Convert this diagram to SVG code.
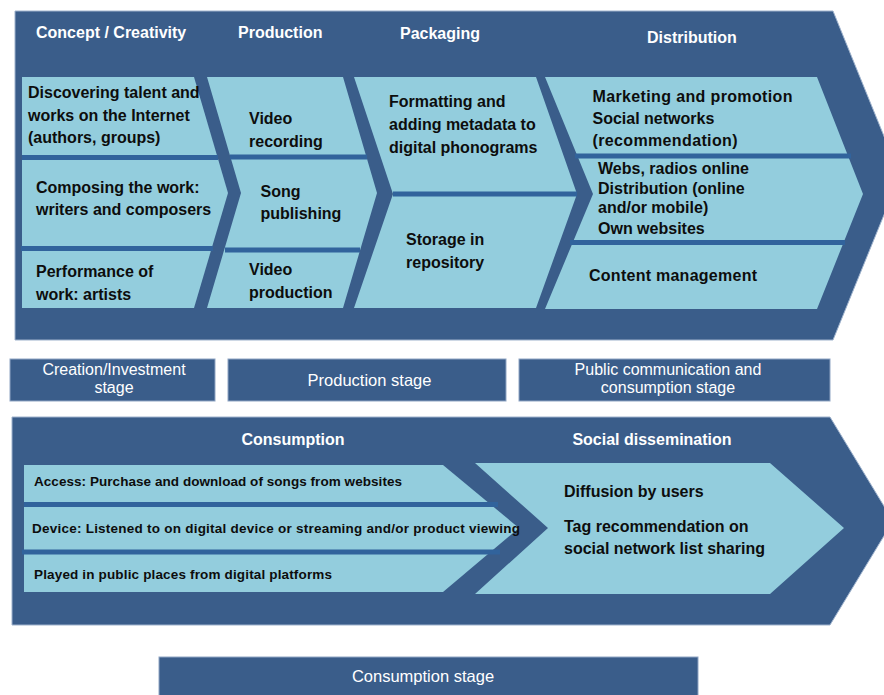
<svg xmlns="http://www.w3.org/2000/svg" width="884" height="695" viewBox="0 0 884 695">
  <style>
    .frame { fill: #3A5D8A; stroke: #9EB2CC; stroke-width: 1; }
    .stage { fill: #3A5D8A; stroke: #8FA5C3; stroke-width: 1; }
    .cell { fill: #93CDDD; }
    .sep { stroke: #31639C; stroke-width: 5; fill: none; }
    text { font-family: "Liberation Sans", Arial, sans-serif; }
    .head { font-size: 16px; font-weight: bold; fill: #FFFFFF; }
    .body { font-size: 16px; font-weight: bold; fill: #0D0D0D; }
    .small { font-size: 13.5px; font-weight: bold; fill: #0D0D0D; }
    .label { font-size: 16.5px; fill: #FFFFFF; text-anchor: middle; }
    .label2 { font-size: 16px; fill: #FFFFFF; text-anchor: middle; }
  </style>

  <!-- Upper value chain -->
  <g id="value-chain">
    <polygon class="frame" points="15,11 833,11 900,175.5 833,340 15,340"/>
    <text class="head" x="36" y="38">Concept / Creativity</text>
    <text class="head" x="238" y="38">Production</text>
    <text class="head" x="400" y="39">Packaging</text>
    <text class="head" x="647" y="43">Distribution</text>
  </g>

  <g id="concept">
    <polygon class="cell" points="22,77 194,77 228,193 194,308 22,308"/>
    <text class="body" x="28" y="98">Discovering talent and</text>
    <text class="body" x="28" y="120.5">works on the Internet</text>
    <text class="body" x="28" y="143">(authors, groups)</text>
    <text class="body" x="36" y="192.5">Composing the work:</text>
    <text class="body" x="36" y="215">writers and composers</text>
    <text class="body" x="36" y="276.5">Performance of</text>
    <text class="body" x="36" y="300">work: artists</text>
  </g>

  <g id="production">
    <polygon class="cell" points="207,77 343,77 377,193 343,308 207,308 241,193"/>
    <text class="body" x="249" y="124">Video</text>
    <text class="body" x="249" y="146.5">recording</text>
    <text class="body" x="260.5" y="196.5">Song</text>
    <text class="body" x="260.5" y="219">publishing</text>
    <text class="body" x="249" y="275">Video</text>
    <text class="body" x="249" y="297.5">production</text>
  </g>

  <g id="packaging">
    <polygon class="cell" points="354,77 536,77 577,194 536,308 354,308 393,194"/>
    <text class="body" x="389" y="106.5">Formatting and</text>
    <text class="body" x="389" y="129.5">adding metadata to</text>
    <text class="body" x="389" y="152.5">digital phonograms</text>
    <text class="body" x="406" y="245">Storage in</text>
    <text class="body" x="406" y="267.5">repository</text>
  </g>

  <g id="distribution">
    <polygon class="cell" points="545,77 817,77 863,194 817,309 545,309 593,194"/>
    <text class="body" x="592.5" y="101.5" textLength="200">Marketing and promotion</text>
    <text class="body" x="592.5" y="123.5">Social networks</text>
    <text class="body" x="592.5" y="146" textLength="145">(recommendation)</text>
    <text class="body" x="598" y="173.5">Webs, radios online</text>
    <text class="body" x="598" y="193.5">Distribution (online</text>
    <text class="body" x="598" y="212.5">and/or mobile)</text>
    <text class="body" x="598" y="233.5">Own websites</text>
    <text class="body" x="589" y="281" textLength="168">Content management</text>
  </g>

  <!-- Stage captions -->
  <g id="stage-creation">
    <rect class="stage" x="10" y="359" width="205" height="42"/>
    <text class="label2" x="114" y="375">Creation/Investment</text>
    <text class="label2" x="114" y="393">stage</text>
  </g>
  <g id="stage-production">
    <rect class="stage" x="228" y="359" width="278" height="42"/>
    <text class="label" x="369.5" y="386">Production stage</text>
  </g>
  <g id="stage-public">
    <rect class="stage" x="519" y="359" width="311" height="42"/>
    <text class="label2" x="668" y="375">Public communication and</text>
    <text class="label2" x="668" y="393">consumption stage</text>
  </g>

  <!-- Lower chain -->
  <g id="consumption-chain">
    <polygon class="frame" points="12,417 830,417 893,521 830,625 12,625"/>
    <text class="head" x="293" y="445" text-anchor="middle">Consumption</text>
    <text class="head" x="652" y="445" text-anchor="middle">Social dissemination</text>
  </g>

  <g id="consumption">
    <polygon class="cell" points="24,465 443,465 519,528 443,592 24,592"/>
    <text class="small" x="34" y="486" textLength="368">Access: Purchase and download of songs from websites</text>
    <text class="small" x="32" y="532.5" textLength="488">Device: Listened to on digital device or streaming and/or product viewing</text>
    <text class="small" x="34" y="579" textLength="298">Played in public places from digital platforms</text>
  </g>

  <g id="social-dissemination">
    <polygon class="cell" points="475,463 770,463 844,528 770,594 475,594 548,528"/>
    <text class="body" x="564" y="497">Diffusion by users</text>
    <text class="body" x="564" y="531.5">Tag recommendation on</text>
    <text class="body" x="564" y="553.5">social network list sharing</text>
  </g>

  <g id="stage-consumption">
    <rect class="stage" x="159" y="657" width="539" height="42"/>
    <text class="label" x="423" y="682">Consumption stage</text>
  </g>

  <!-- Row dividers inside the chevrons -->
  <g id="connectors">
    <line class="sep" x1="22" y1="157.5" x2="218" y2="157.5"/>
    <line class="sep" x1="21" y1="248.5" x2="213" y2="248.5"/>
    <line class="sep" x1="230" y1="157" x2="367" y2="157"/>
    <line class="sep" x1="225" y1="250" x2="360" y2="250"/>
    <line class="sep" x1="393" y1="194" x2="577" y2="194"/>
    <line class="sep" x1="575" y1="156" x2="851" y2="156"/>
    <line class="sep" x1="570" y1="242.5" x2="845" y2="242.5"/>
    <line class="sep" x1="24" y1="504.5" x2="498" y2="504.5"/>
    <line class="sep" x1="22" y1="552" x2="500" y2="552"/>
  </g>
</svg>
